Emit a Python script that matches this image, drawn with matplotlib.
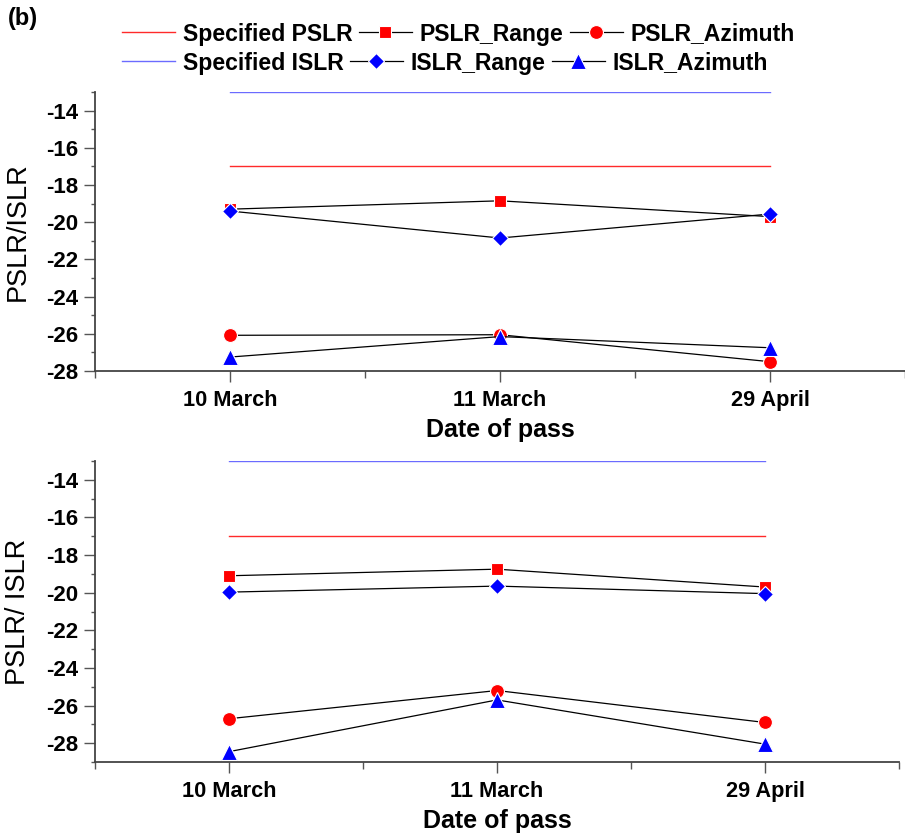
import matplotlib
matplotlib.use('Agg')
import matplotlib.pyplot as plt
from matplotlib.ticker import MultipleLocator

plt.rcParams['font.family'] = ['Liberation Sans', 'DejaVu Sans']

dates = ['10 March', '11 March', '29 April']
spec_pslr = -17
spec_islr = -13

# panel 1
pslr_range_1 = [-19.3, -18.85, -19.7]
pslr_azim_1 = [-26.08, -26.05, -27.5]
islr_range_1 = [-19.4, -20.85, -19.56]
islr_azim_1 = [-27.25, -26.15, -26.75]

# panel 2
pslr_range_2 = [-19.1, -18.75, -19.7]
pslr_azim_2 = [-26.7, -25.2, -26.9]
islr_range_2 = [-19.97, -19.65, -20.05]
islr_azim_2 = [-28.45, -25.7, -28.05]

W, H = 905, 838
fig = plt.figure(figsize=(W / 100, H / 100), dpi=100)


def px_axes(l, r, t, b):
    return fig.add_axes([l / W, 1 - b / H, (r - l) / W, (b - t) / H])


def panel(ax, pr, pa, ir, ia, ylab, ymin):
    x = [1, 2, 3]
    ax.plot([1, 3], [spec_pslr] * 2, color='#ff2a2a', lw=1.0, label='Specified PSLR')
    ax.plot([1, 3], [spec_islr] * 2, color='#6b6bff', lw=1.0, label='Specified ISLR')
    st = dict(color='black', lw=0.9, mec='white', mew=0.8)
    ax.plot(x, pr, marker='s', ms=9, mfc='red', label='PSLR_Range', **st)
    ax.plot(x, pa, marker='o', ms=10, mfc='red', label='PSLR_Azimuth', **st)
    ax.plot(x, ir, marker='D', ms=8.5, mfc='blue', label='ISLR_Range', **st)
    ax.plot(x, ia, marker='^', ms=11, mfc='blue', label='ISLR_Azimuth', **st)
    ax.set_xlim(0.5, 3.5)
    ax.set_ylim(ymin, -13)
    ax.set_xticks(x)
    ax.set_xticklabels(dates, fontsize=15.7, fontweight='bold')
    ax.xaxis.set_minor_locator(MultipleLocator(0.5))
    ax.yaxis.set_minor_locator(MultipleLocator(1))
    ax.set_yticks(range(-28, -13, 2))
    ax.set_yticklabels([str(v) for v in range(-28, -13, 2)], fontsize=16, fontweight='bold')
    ax.set_xlabel('Date of pass', fontsize=18, fontweight='bold', labelpad=5)
    ax.set_ylabel(ylab, fontsize=19.5)
    ax.yaxis.set_label_coords(-64 / ax.bbox.width, 0.5)
    for s in ['top', 'right']:
        ax.spines[s].set_visible(False)
    for s in ['left', 'bottom']:
        ax.spines[s].set_color('#444444')
        ax.spines[s].set_linewidth(1.3)
    ax.tick_params(axis='y', which='major', direction='out', length=8, width=1, color='#555555', pad=4)
    ax.tick_params(axis='x', which='major', direction='out', length=8, width=1, color='#555555', pad=6)
    ax.tick_params(axis='x', which='minor', direction='out', length=5, width=1, color='#555555')
    ax.tick_params(axis='y', which='minor', direction='out', length=3, width=1, color='#555555')


ax1 = px_axes(95, 905, 92, 371)
panel(ax1, pslr_range_1, pslr_azim_1, islr_range_1, islr_azim_1, 'PSLR/ISLR', -28)
ax2 = px_axes(95, 899, 461, 762)
panel(ax2, pslr_range_2, pslr_azim_2, islr_range_2, islr_azim_2, 'PSLR/ ISLR', -29)

h, l = ax1.get_legend_handles_labels()
lk = dict(frameon=False, ncol=3, loc='center left', borderpad=0, borderaxespad=0,
          handlelength=2.3, handletextpad=0.35, columnspacing=0.26,
          prop={'size': 16.6, 'weight': 'bold'})
fig.legend([h[0], h[2], h[3]], [l[0], l[2], l[3]],
           bbox_to_anchor=(122 / W, 1 - 34 / H), **lk)
fig.legend([h[1], h[4], h[5]], [l[1], l[4], l[5]],
           bbox_to_anchor=(122 / W, 1 - 63 / H), **lk)

fig.text(8 / W, 1 - 18 / H, '(b)', fontsize=17, fontweight='bold', va='center')

fig.savefig('out.png', dpi=100)
